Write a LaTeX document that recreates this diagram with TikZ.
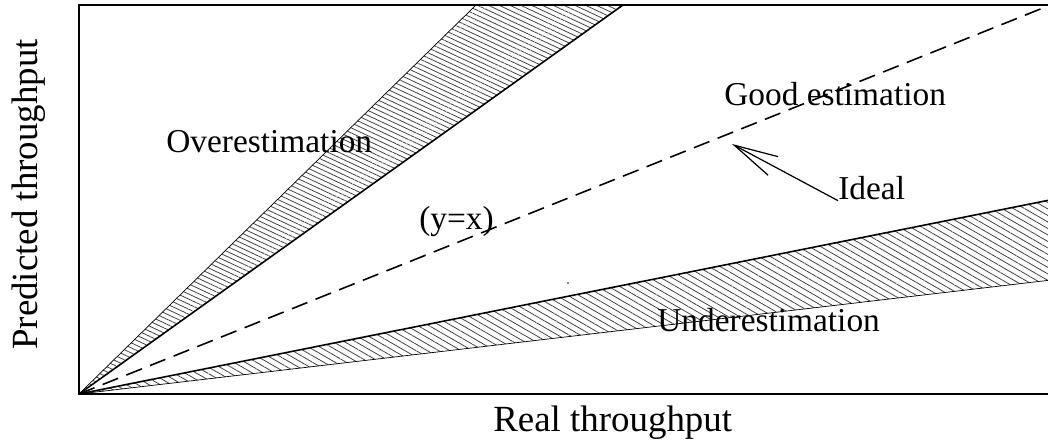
\documentclass[tikz,border=0pt]{standalone}
\usepackage{fontspec}
\setmainfont{Liberation Serif}
\usetikzlibrary{arrows.meta, patterns.meta}

\begin{document}
\begin{tikzpicture}[
      x=0.02cm, y=0.02cm,
      frame/.style={line width=1.2pt},
      bound/.style={line width=0.9pt},
      edge/.style={line width=0.4pt},
      exact/.style={line width=0.9pt, dash pattern=on 9.5pt off 5pt},
      hatchover/.style={pattern={Lines[angle=-25, distance=2.6pt, line width=0.45pt]}, pattern color=black!75},
      hatchunder/.style={pattern={Lines[angle=-30, distance=3.2pt, line width=0.45pt]}, pattern color=black!75},
      lbl/.style={font=\fontsize{19}{23}\selectfont, inner sep=0pt, anchor=base west},
      axis/.style={font=\fontsize{21}{25}\selectfont, inner sep=0pt, anchor=base west},
      pointer/.style={line width=0.7pt, -{Straight Barb[length=25pt, width=12pt, line width=0.7pt]}}
    ]
    \useasboundingbox (0,0) rectangle (1048,448);

    % corner of the axes and the band ends
    \coordinate (O) at (79,54);
    \coordinate (overhi) at (476,443);
    \coordinate (overlo) at (623,443);
    \coordinate (exactend) at (1048,442);
    \coordinate (underhi) at (1060,250);
    \coordinate (underlo) at (1060,169);
    \coordinate (tip) at (732,304);

    % hatched bands
    \fill[hatchover] (O) -- (overhi) -- (overlo) -- cycle;
    \fill[hatchunder] (O) -- (underhi) -- (underlo) -- cycle;
    \draw[edge] (O) -- (overhi);
    \draw[bound] (O) -- (overlo);
    \draw[edge] (O) -- (underlo);
    \draw[bound] (O) -- (underhi);
    \draw[exact] (O) -- (exactend);

    % axes frame
    \draw[frame] (1060,443) -- (79,443) -- (O) -- (1060,54);
    \fill (568,165) circle (0.8);

    % labels
    \node[lbl] (over) at (166,295) {Overestimation};
    \node[lbl] (good) at (724,342) {Good estimation};
    \node[lbl] (yx) at (419,218) {(y=x)};
    \node[lbl] (ideal) at (838,248) {Ideal};
    \node[lbl] (under) at (657,116) {Underestimation};
    \node[axis] (xlab) at (493,16) {Real throughput};
    \node[axis, rotate=90] (ylab) at (37,98) {Predicted throughput};

    \draw[pointer] (ideal.south west) -- (tip);
  \end{tikzpicture}
\end{document}
